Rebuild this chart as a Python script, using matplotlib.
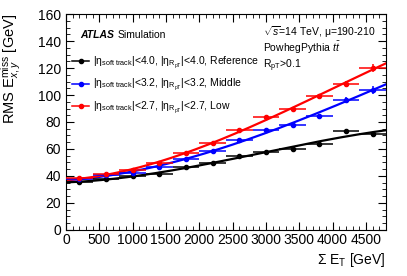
import matplotlib
matplotlib.use('Agg')
import matplotlib.pyplot as plt
from matplotlib.ticker import MultipleLocator
from matplotlib.lines import Line2D
import numpy as np

plt.rcParams['font.family'] = 'Liberation Sans'
plt.rcParams['mathtext.fontset'] = 'custom'
plt.rcParams['mathtext.rm'] = 'Liberation Sans'
plt.rcParams['mathtext.it'] = 'Liberation Sans:italic'
plt.rcParams['mathtext.bf'] = 'Liberation Sans:bold'

# Sum E_T bins (centres and half widths)
sumet = [200, 600, 1000, 1400, 1800, 2200, 2600, 3000, 3400, 3800, 4200, 4600]
sumet_err = [200] * 12

# RMS E_xy^miss per eta selection
rms_ref = [35.5, 37.8, 39.6, 41.6, 46.6, 49.6, 54.6, 57.8, 60.2, 63.7, 73.4, 70.8]
rms_ref_err = [0.8, 0.6, 0.6, 0.6, 0.7, 0.8, 0.9, 1.0, 1.1, 1.3, 1.5, 1.8]
rms_mid = [37.8, 40.5, 42.4, 46.8, 52.7, 58.5, 66.3, 73.7, 78.0, 84.6, 96.6, 103.9]
rms_mid_err = [0.8, 0.6, 0.6, 0.7, 0.8, 0.9, 1.0, 1.2, 1.4, 1.6, 2.0, 2.8]
rms_low = [38.2, 41.2, 44.4, 49.8, 57.0, 64.4, 74.1, 83.4, 89.3, 99.0, 108.3, 120.0]
rms_low_err = [0.8, 0.6, 0.7, 0.8, 0.9, 1.0, 1.1, 1.3, 1.5, 1.8, 2.2, 3.0]

labels = [u'|η$_{\\mathrm{soft\\ track}}$|<4.0, |η$_{\\mathrm{R}_{\\mathrm{pT}}}$|<4.0, Reference',
          u'|η$_{\\mathrm{soft\\ track}}$|<3.2, |η$_{\\mathrm{R}_{\\mathrm{pT}}}$|<3.2, Middle',
          u'|η$_{\\mathrm{soft\\ track}}$|<2.7, |η$_{\\mathrm{R}_{\\mathrm{pT}}}$|<2.7, Low']
colors = ['black', 'blue', 'red']

fig = plt.figure(figsize=(4.07, 2.76), dpi=100)
ax = fig.add_axes([0.162, 0.167, 0.786, 0.782])

x_fine = np.linspace(0, 4800, 300)
series = [(rms_ref, rms_ref_err), (rms_mid, rms_mid_err), (rms_low, rms_low_err)]
handles = []
for (vals, errs), col in zip(series, colors):
    # polynomial fit like the original
    coef = np.polyfit(sumet, vals, 3)
    ax.plot(x_fine, np.polyval(coef, x_fine), color=col, lw=1.6, zorder=2)
    ax.errorbar(sumet, vals, xerr=sumet_err, yerr=errs, fmt='o', color=col,
                ms=3, elinewidth=1.1, capsize=0, zorder=3)
    handles.append(Line2D([], [], color=col, marker='o', ms=3, lw=1.1))

ax.set_xlim(0, 4800)
ax.set_ylim(0, 160)
ax.xaxis.set_major_locator(MultipleLocator(500))
ax.xaxis.set_minor_locator(MultipleLocator(100))
ax.yaxis.set_major_locator(MultipleLocator(20))
ax.yaxis.set_minor_locator(MultipleLocator(5))
ax.tick_params(which='both', direction='in', top=True, right=True, labelsize=10)
ax.tick_params(which='major', length=6)
ax.tick_params(which='minor', length=3)
ax.tick_params(axis='x', pad=2)

ax.set_ylabel('RMS $\\mathrm{E}_{x,y}^{\\mathrm{miss}}$ [GeV]', fontsize=10.5, loc='top')
ax.yaxis.set_label_coords(-0.135, 1.0)
ax.set_xlabel('Σ E$_{\\mathrm{T}}$ [GeV]', fontsize=10, loc='right')
ax.xaxis.set_label_coords(1.0, -0.1)

ax.text(0.045, 0.89, 'ATLAS', transform=ax.transAxes, fontsize=7.5,
        fontweight='bold', fontstyle='italic')
ax.text(0.16, 0.89, 'Simulation', transform=ax.transAxes, fontsize=7.5)
ax.text(0.615, 0.90, '$\\sqrt{s}$=14 TeV, μ=190-210', transform=ax.transAxes, fontsize=7.5)
ax.text(0.615, 0.825, 'PowhegPythia $t\\bar{t}$', transform=ax.transAxes, fontsize=7.5)
ax.text(0.615, 0.75, 'R$_{\\mathrm{pT}}$>0.1', transform=ax.transAxes, fontsize=7.5)

ax.legend(handles, labels, loc='upper left', bbox_to_anchor=(0.0, 0.84), frameon=False,
          fontsize=7.5, handlelength=1.6, handletextpad=0.4, labelspacing=0.6,
          borderaxespad=0.2)

fig.savefig('out.png', dpi=100)
